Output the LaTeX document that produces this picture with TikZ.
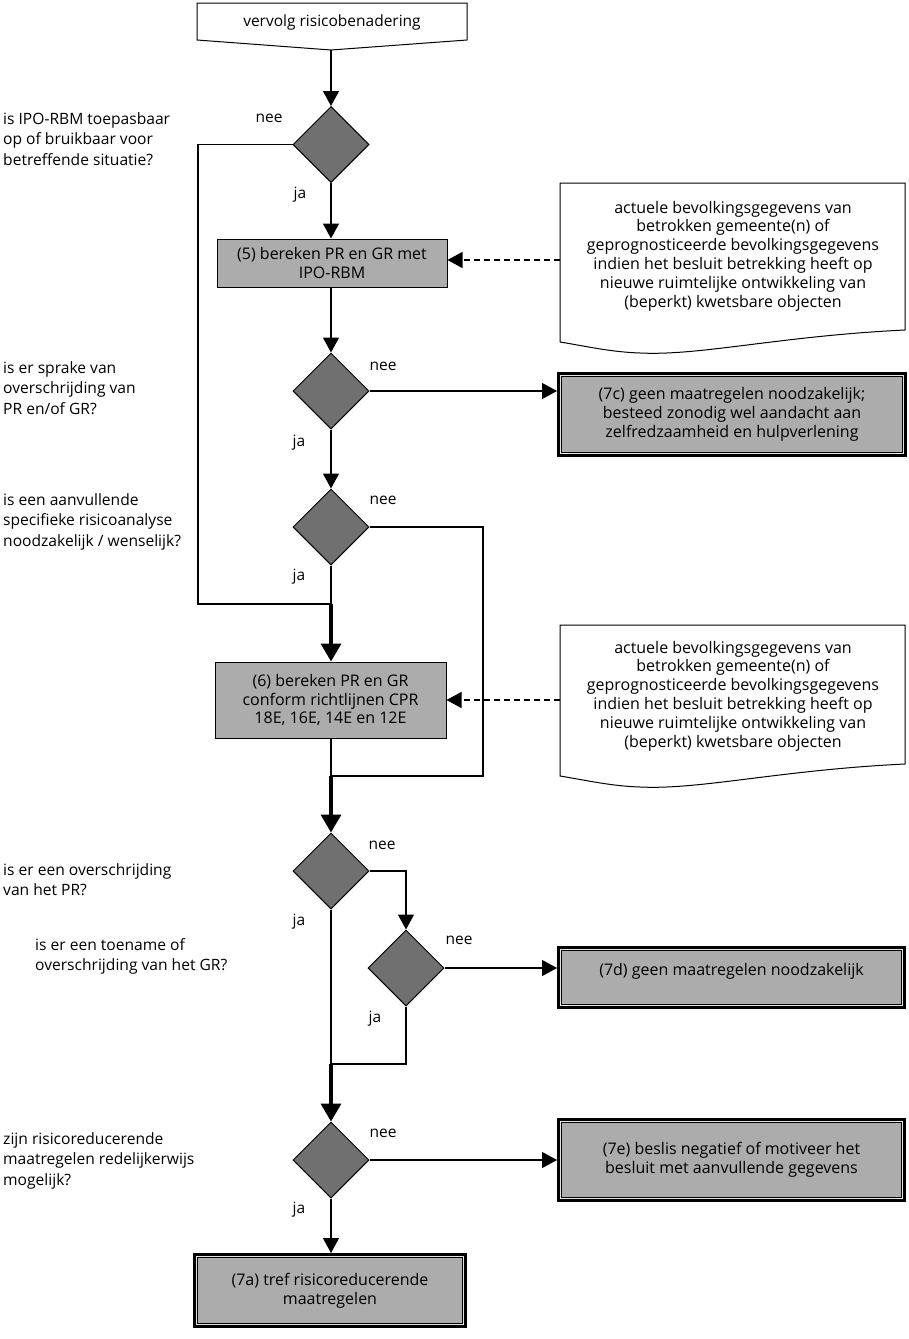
\documentclass[tikz,border=0pt]{standalone}
\usepackage{fontspec}
\setmainfont{Open Sans}
\usetikzlibrary{shapes.geometric,arrows.meta}
\definecolor{diamgray}{RGB}{112,112,112}
\definecolor{boxgray}{RGB}{172,172,172}
\newcommand\innerframe[1]{%
  \draw[line width=1pt,white!80!gray] ([shift={(3.3pt,-3.3pt)}]#1.north west) rectangle ([shift={(-3.3pt,3.3pt)}]#1.south east);
  \draw[line width=0.9pt] ([shift={(4.6pt,-4.6pt)}]#1.north west) rectangle ([shift={(-4.6pt,4.6pt)}]#1.south east);}
\begin{document}
\begin{tikzpicture}[x=1pt,y=-1pt,
  txt/.style={font=\fontsize{16}{18.8}\selectfont, align=center, inner sep=0pt},
  quest/.style={font=\fontsize{15.6}{20.5}\selectfont, align=left, inner sep=0pt, anchor=north west},
  lbl/.style={font=\fontsize{15.5}{18}\selectfont, inner sep=0pt},
  dia/.style={diamond, aspect=1, minimum size=76pt, inner sep=0pt, draw, line width=1pt, fill=diamgray},
  procbox/.style={rectangle, draw, line width=1pt, fill=boxgray, txt},
  endbox/.style={rectangle, draw, line width=4.5pt, fill=boxgray, txt},
  conn/.style={line width=1.3pt},
  arr/.style={conn, -{Triangle[length=15pt,width=16pt]}},
  thickarr/.style={line width=3.5pt, -{Triangle[length=18pt,width=20pt]}},
  dasharr/.style={conn, dash pattern=on 6pt off 4pt, -{Triangle[length=15pt,width=16pt]}},
  docshape/.style={draw, line width=1pt, fill=white}
]
\useasboundingbox (0,0) rectangle (909,1339);

% start box
\draw[docshape] (197,3) -- (467,3) -- (467,40) -- (331,50) -- (197,40) -- cycle;
\node[txt, font=\fontsize{15.5}{18}\selectfont] (start) at (332,22) {vervolg risicobenadering};
\coordinate (startb) at (331,50);

% documents
\draw[docshape] (560,183) -- (905,183) -- (905,330) .. controls (780,336) and (700,356) .. (640,353) .. controls (610,352) and (585,346) .. (560,342) -- cycle;
\node[txt] (doc1) at (733,256) {actuele bevolkingsgegevens van\\betrokken gemeente(n) of\\geprognosticeerde bevolkingsgegevens\\indien het besluit betrekking heeft op\\nieuwe ruimtelijke ontwikkeling van\\(beperkt) kwetsbare objecten};
\coordinate (doc1w) at (560,260);

\draw[docshape] (560,625) -- (905,625) -- (905,764) .. controls (780,770) and (700,790) .. (640,787) .. controls (610,786) and (585,780) .. (560,776) -- cycle;
\node[txt] (doc2) at (733,696) {actuele bevolkingsgegevens van\\betrokken gemeente(n) of\\geprognosticeerde bevolkingsgegevens\\indien het besluit betrekking heeft op\\nieuwe ruimtelijke ontwikkeling van\\(beperkt) kwetsbare objecten};
\coordinate (doc2w) at (560,700);

% diamonds
\node[dia] (d1) at (331,144.5) {};
\node[dia] (d2) at (331,391) {};
\node[dia] (d3) at (331,527) {};
\node[dia] (d4) at (331,871) {};
\node[dia] (d5) at (406,968) {};
\node[dia] (d6) at (331,1160) {};

% process boxes
\node[procbox, minimum width=230pt, minimum height=48pt] (b5) at (332,263) {(5) bereken PR en GR met\\IPO-RBM};
\node[procbox, minimum width=231pt, minimum height=76pt] (b6) at (330.5,700) {(6) bereken PR en GR\\conform richtlijnen CPR\\18E, 16E, 14E en 12E};

% end boxes
\node[endbox, minimum width=345.5pt, minimum height=80.5pt] (c7) at (732,414.5) {(7c) geen maatregelen noodzakelijk;\\besteed zonodig wel aandacht aan\\zelfredzaamheid en hulpverlening};
\innerframe{c7}
\node[endbox, minimum width=344.5pt, minimum height=58.5pt] (d7) at (731.5,977.5) {};
\innerframe{d7}
\node[txt] (d7t) at (731.5,971) {(7d) geen maatregelen noodzakelijk};
\node[endbox, minimum width=344.5pt, minimum height=79.5pt] (e7) at (731.5,1160) {(7e) beslis negatief of motiveer het\\besluit met aanvullende gegevens};
\innerframe{e7}
\node[endbox, minimum width=269.5pt, minimum height=70.5pt] (a7) at (330,1290.5) {(7a) tref risicoreducerende\\maatregelen};
\innerframe{a7}

% questions
\node[quest] (q1) at (3,112) {is IPO-RBM toepasbaar\\op of bruikbaar voor\\betreffende situatie?};
\node[quest] (q2) at (3,361) {is er sprake van\\overschrijding van\\PR en/of GR?};
\node[quest] (q3) at (3,493) {is een aanvullende\\specifieke risicoanalyse\\noodzakelijk / wenselijk?};
\node[quest] (q4) at (3,863) {is er een overschrijding\\van het PR?};
\node[quest] (q5) at (35,938) {is er een toename of\\overschrijding van het GR?};
\node[quest] (q6) at (3,1132) {zijn risicoreducerende\\maatregelen redelijkerwijs\\mogelijk?};

% nee / ja labels
\node[lbl] (n1) at (269,118) {nee};
\node[lbl] (j1l) at (300,195) {ja};
\node[lbl] (n2) at (383,366) {nee};
\node[lbl] (j2l) at (299,443) {ja};
\node[lbl] (n3) at (383,500) {nee};
\node[lbl] (j3l) at (299,577) {ja};
\node[lbl] (n4) at (382,845) {nee};
\node[lbl] (j4l) at (299,922) {ja};
\node[lbl] (n5) at (459,940) {nee};
\node[lbl] (j5l) at (375,1019) {ja};
\node[lbl] (n6) at (383,1133) {nee};
\node[lbl] (j6l) at (299,1210) {ja};

% junctions
\coordinate (k1) at (198,604);
\coordinate (j1) at (331,604);
\coordinate (k2) at (483,776);
\coordinate (j2) at (331,776);
\coordinate (j3) at (331,1064);

% connectors
\draw[arr] (startb) -- (d1.north);
\draw[conn] (d1.west) -| (k1) -- (j1);
\draw[arr] (d1.south) -- (d1.south |- b5.north);
\draw[dasharr] (doc1w) -- (doc1w -| b5.east);
\draw[arr] (d2.north |- b5.south) -- (d2.north);
\draw[arr] (d2.east) -- (d2.east -| c7.west);
\draw[arr] (d2.south) -- (d3.north);
\draw[conn] (d3.south) -- (j1);
\draw[conn] (d3.east) -| (k2) -- (j2);
\draw[thickarr] (j1) -- (j1 |- b6.north);
\draw[dasharr] (doc2w) -- (doc2w -| b6.east);
\draw[conn] (j2 |- b6.south) -- (j2);
\draw[thickarr] (j2) -- (d4.north);
\draw[arr] (d4.east) -| (d5.north);
\draw[arr] (d5.east) -- (d5.east -| d7.west);
\draw[conn] (d5.south) |- (j3);
\draw[conn] (d4.south) -- (j3);
\draw[thickarr] (j3) -- (d6.north);
\draw[arr] (d6.east) -- (d6.east -| e7.west);
\draw[arr] (d6.south) -- (d6.south |- a7.north);
\end{tikzpicture}
\end{document}
